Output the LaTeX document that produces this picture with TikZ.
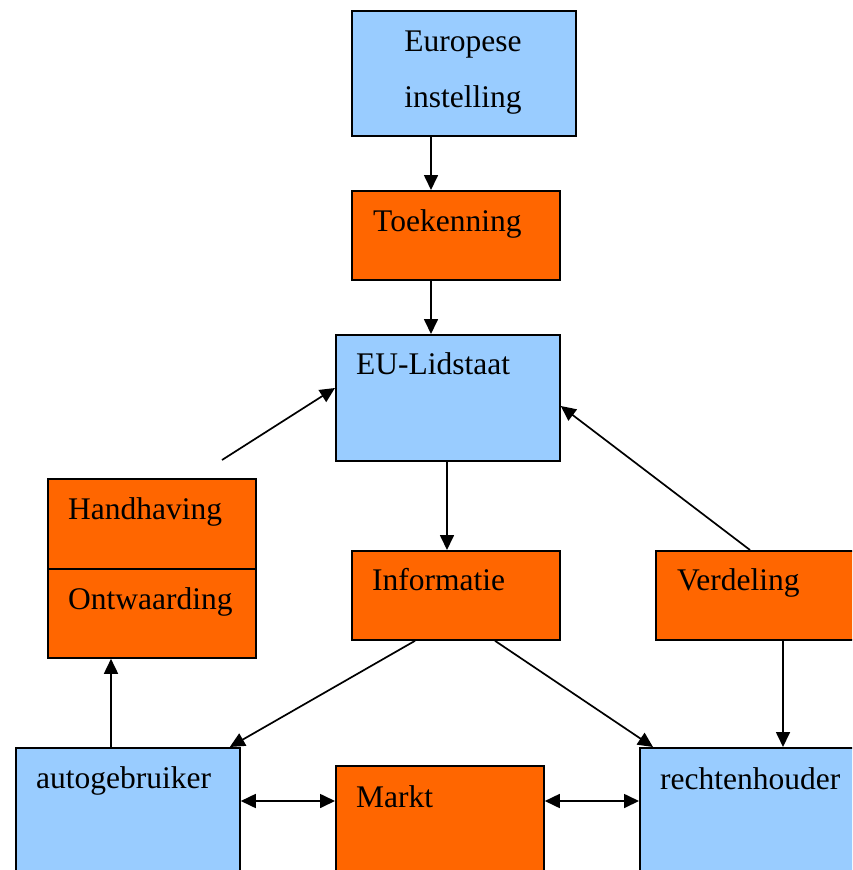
\documentclass[tikz,border=0pt]{standalone}
\usepackage{fontspec}
\setmainfont{Liberation Serif}
\usetikzlibrary{arrows.meta}
\definecolor{boxblue}{HTML}{99CCFF}
\definecolor{boxorange}{HTML}{FF6600}
\begin{document}
\begin{tikzpicture}[x=1pt,y=-1pt,
  box/.style={draw=black,line width=1.8pt,rectangle,inner sep=0pt,anchor=north west},
  bluebox/.style={box,fill=boxblue},
  orangebox/.style={box,fill=boxorange},
  lbl/.style={inner sep=0pt,anchor=base west,font=\fontsize{31.5}{38}\selectfont},
  clbl/.style={lbl,anchor=base},
  conn/.style={line width=1.7pt,-{Triangle[length=15pt,width=14pt]}},
  biconn/.style={line width=1.7pt,{Triangle[length=15pt,width=14pt]}-{Triangle[length=15pt,width=14pt]}}]
\useasboundingbox (0,0) rectangle (852,870);
\clip (0,0) rectangle (852,870);

% boxes
\node[bluebox,minimum width=224pt,minimum height=125pt] (europe) at (351,10) {};
\node[orangebox,minimum width=208pt,minimum height=89pt] (toek) at (351,190) {};
\node[bluebox,minimum width=224pt,minimum height=126pt] (eu) at (335,334) {};
\node[orangebox,minimum width=208pt,minimum height=89pt] (info) at (351,550) {};
\node[orangebox,minimum width=230pt,minimum height=89pt] (verd) at (655,550) {};
\node[orangebox,minimum width=208pt,minimum height=90pt] (hand) at (47,478) {};
\node[orangebox,minimum width=208pt,minimum height=89pt] (ontw) at (47,568) {};
\node[bluebox,minimum width=224pt,minimum height=160pt] (auto) at (15,747) {};
\node[orangebox,minimum width=208pt,minimum height=140pt] (markt) at (335,765) {};
\node[bluebox,minimum width=250pt,minimum height=160pt] (recht) at (639,747) {};

% labels
\node[clbl] (europeA) at (463,51) {Europese};
\node[clbl] (europeB) at (463,107) {instelling};
\node[lbl] (toekT) at (373,231) {Toekenning};
\node[lbl] (euT) at (356,374) {EU-Lidstaat};
\node[lbl] (infoT) at (372,590) {Informatie};
\node[lbl] (verdT) at (677,590) {Verdeling};
\node[lbl] (handT) at (68,519) {Handhaving};
\node[lbl] (ontwT) at (68,609) {Ontwaarding};
\node[lbl] (autoT) at (36,788) {autogebruiker};
\node[lbl] (marktT) at (356,807) {Markt};
\node[lbl] (rechtT) at (660,789) {rechtenhouder};

% connectors
\coordinate (handstart) at (222,460);
\draw[conn] ([xshift=80pt]europe.south west) -- ([xshift=80pt]toek.north west);
\draw[conn] ([xshift=80pt]toek.south west) -- ([xshift=96pt]eu.north west);
\draw[conn] ([xshift=112pt]eu.south west) -- ([xshift=96pt]info.north west);
\draw[conn] (handstart) -- ([yshift=-54pt]eu.north west);
\draw[conn] ([xshift=95pt]verd.north west) -- ([yshift=-72pt]eu.north east);
\draw[conn] ([xshift=64pt]info.south west) -- ([xshift=-11pt]auto.north east);
\draw[conn] ([xshift=144pt]info.south west) -- ([xshift=14pt]recht.north west);
\draw[conn] ([xshift=128pt]verd.south west) -- ([xshift=144pt]recht.north west);
\draw[conn] ([xshift=96pt]auto.north west) -- ([xshift=64pt]ontw.south west);
\draw[biconn] ([yshift=-54pt]auto.north east) -- ([yshift=-36pt]markt.north west);
\draw[biconn] ([yshift=-36pt]markt.north east) -- ([yshift=-54pt]recht.north west);
\end{tikzpicture}
\end{document}
